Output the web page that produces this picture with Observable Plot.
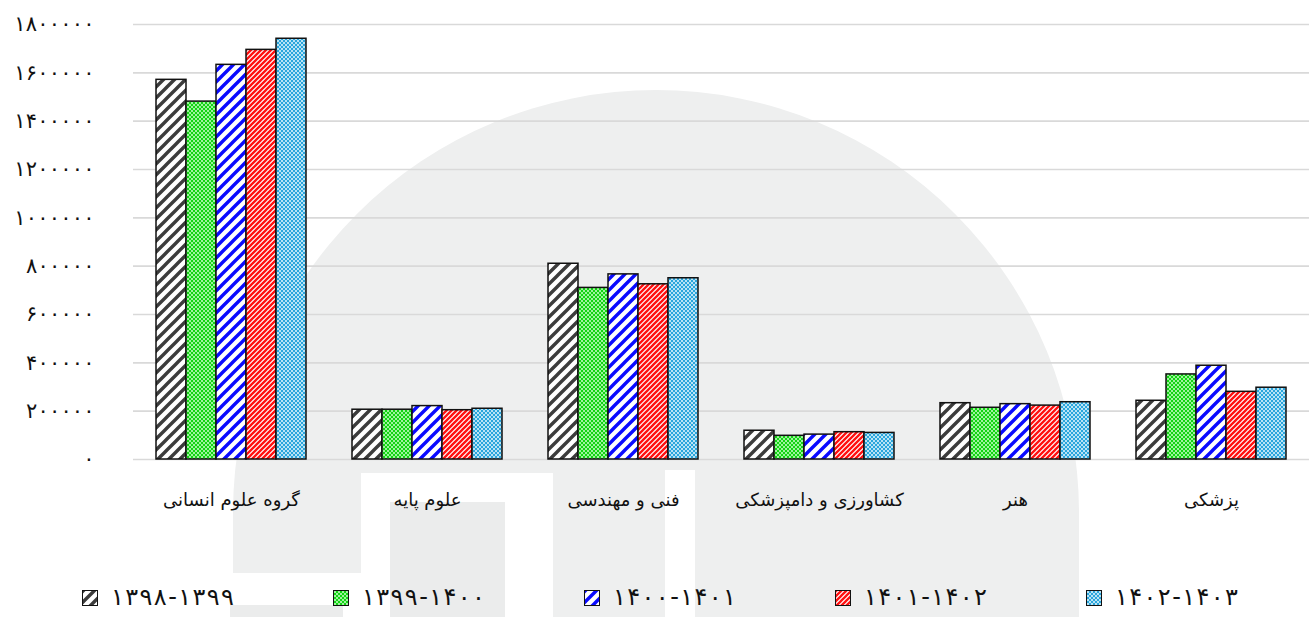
<!DOCTYPE html>
<html>
<head>
<meta charset="utf-8">
<script src="https://cdn.jsdelivr.net/npm/d3@7"></script>
<script src="https://cdn.jsdelivr.net/npm/@observablehq/plot@0.6"></script>
<style>
  html, body { margin: 0; padding: 0; background: #fff; }
  body { width: 1312px; height: 617px; position: relative; overflow: hidden; font-family: "DejaVu Sans", sans-serif; }
  #bg { position: absolute; left: 0; top: 0; z-index: 0; }
  #chart { position: absolute; left: 0; top: 0; z-index: 1; }
  #legend { position: absolute; left: 82px; top: 583px; z-index: 2; display: flex; }
  .item { width: 251px; display: flex; align-items: center; height: 28px; }
  .sw { width: 14px; height: 14px; border: 1.5px solid #111; flex: none; margin-top: 2px; }
  .lab { margin-left: 13px; font-size: 24px; color: #111; line-height: 28px; white-space: nowrap; display: flex; }
  .lab span { padding-right: 1.4px; }
</style>
</head>
<body>
<svg id="bg" width="1312" height="617">
  <defs>
    <pattern id="p0" width="11" height="11" patternUnits="userSpaceOnUse">
      <rect width="11" height="11" fill="#ffffff"/>
      <path d="M-2.75,2.75 l5.5,-5.5 M0,11 l11,-11 M8.25,13.75 l5.5,-5.5" stroke="#3c3c3c" stroke-width="3.4"/>
    </pattern>
    <pattern id="p1" width="4" height="4" patternUnits="userSpaceOnUse">
      <rect width="4" height="4" fill="#12d412"/>
      <rect x="0" y="0" width="2" height="2" fill="#9ef29e"/>
      <rect x="2" y="2" width="2" height="2" fill="#9ef29e"/>
    </pattern>
    <pattern id="p2" width="11" height="11" patternUnits="userSpaceOnUse">
      <rect width="11" height="11" fill="#ffffff"/>
      <path d="M-2.75,2.75 l5.5,-5.5 M0,11 l11,-11 M8.25,13.75 l5.5,-5.5" stroke="#0a0aff" stroke-width="3.4"/>
    </pattern>
    <pattern id="p3" width="5" height="5" patternUnits="userSpaceOnUse">
      <rect width="5" height="5" fill="#ffffff"/>
      <path d="M-1.25,1.25 l2.5,-2.5 M0,5 l5,-5 M3.75,6.25 l2.5,-2.5" stroke="#ff1010" stroke-width="2.3"/>
    </pattern>
    <pattern id="p4" width="4" height="4" patternUnits="userSpaceOnUse">
      <rect width="4" height="4" fill="#2aa6dc"/>
      <rect x="0" y="0" width="2" height="2" fill="#b9e3f5"/>
      <rect x="2" y="2" width="2" height="2" fill="#b9e3f5"/>
    </pattern>
  </defs>
  <g fill="#eeefef">
    <path d="M233,617 L233,513 A423,423 0 0 1 1079,513 L1079,617 Z"/>
  </g>
  <g fill="#ffffff">
    <rect x="361" y="473" width="192" height="144"/>
    <rect x="233" y="573" width="128" height="32"/>
    <rect x="343" y="605" width="18" height="12"/>
    <rect x="665" y="470" width="30" height="147"/>
  </g>
  <g fill="#ebecec">
    <rect x="390" y="502" width="115" height="115"/>
    <rect x="230" y="605" width="113" height="12"/>
  </g>
</svg>
<div id="chart"></div>
<div id="legend"></div>
<script>
// ---- data ----
const categories = ["گروه علوم انسانی", "علوم پایه", "فنی و مهندسی", "کشاورزی و دامپزشکی", "هنر", "پزشکی"];
const seriesNames = ["۱۳۹۸-۱۳۹۹", "۱۳۹۹-۱۴۰۰", "۱۴۰۰-۱۴۰۱", "۱۴۰۱-۱۴۰۲", "۱۴۰۲-۱۴۰۳"];
const v1398_1399 = [1571000, 206000, 810000, 119000, 233000, 243000];
const v1399_1400 = [1481000, 206000, 710000,  98000, 214000, 352000];
const v1400_1401 = [1633000, 221000, 766000, 103000, 229000, 388000];
const v1401_1402 = [1695000, 204000, 725000, 113000, 223000, 280000];
const v1402_1403 = [1741000, 210000, 750000, 110000, 237000, 297000];
const yTicks = [0, 200000, 400000, 600000, 800000, 1000000, 1200000, 1400000, 1600000, 1800000];
const patternFills = ["url(#p0)", "url(#p1)", "url(#p2)", "url(#p3)", "url(#p4)"];

const seriesValues = [v1398_1399, v1399_1400, v1400_1401, v1401_1402, v1402_1403];
const rows = [];
categories.forEach((c, i) => {
  seriesNames.forEach((s, j) => rows.push({cat: c, series: s, value: seriesValues[j][i]}));
});

const faDigits = "۰۱۲۳۴۵۶۷۸۹";
const toFa = (n) => String(n).replace(/\d/g, (d) => faDigits[+d]);

const plot = Plot.plot({
  width: 1312,
  height: 540,
  marginLeft: 132,
  marginRight: 3,
  marginTop: 24,
  marginBottom: 81,
  style: {background: "transparent", fontFamily: "DejaVu Sans, sans-serif", fontSize: "18px", color: "#111"},
  facet: {data: rows, x: "cat", label: null},
  fx: {domain: categories, padding: 0, axis: "bottom", tickSize: 0, tickPadding: 34, label: null},
  x: {domain: seriesNames, paddingInner: 0, paddingOuter: 0.7, axis: null},
  y: {domain: [0, 1800000], ticks: yTicks, tickFormat: toFa, tickSize: 0, tickPadding: 39, label: null},
  color: {domain: seriesNames, range: patternFills},
  marks: [
    Plot.ruleY(yTicks, {stroke: "#d9d9d9", strokeWidth: 1.6}),
    Plot.barY(rows, {x: "series", y: "value", fill: "series", stroke: "#111", strokeWidth: 1.5})
  ]
});
document.getElementById("chart").appendChild(plot);

// typographic tuning of axis labels
d3.select(plot).selectAll('[aria-label="y-axis"] text, [aria-label="y-axis tick label"] text')
  .attr("font-size", 21)
  .each(function() {
    const n = this.textContent.length;
    if (n > 1) { this.setAttribute("textLength", n * 11.9 - 3); this.setAttribute("lengthAdjust", "spacing"); }
  });
d3.select(plot).selectAll('[aria-label="fx-axis"] text, [aria-label="fx-axis tick label"] text')
  .attr("font-size", 18);

// legend
const legend = d3.select("#legend");
seriesNames.forEach((s, i) => {
  const it = legend.append("div").attr("class", "item");
  const sw = it.append("div").attr("class", "sw");
  sw.append("svg").attr("width", 14).attr("height", 14).style("display", "block")
    .append("rect").attr("width", 14).attr("height", 14).attr("fill", patternFills[i]);
  const lab = it.append("div").attr("class", "lab");
  Array.from(s).forEach((ch) => lab.append("span").text(ch));
});
</script>
</body>
</html>
